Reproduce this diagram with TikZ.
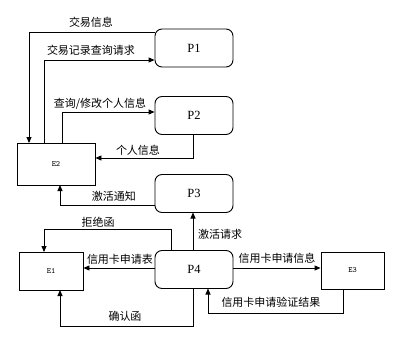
\documentclass[tikz,border=0pt]{standalone}
\usepackage{fontspec}
\newfontfamily\cjk{Noto Sans CJK SC}
\setmainfont{Liberation Serif}
\usetikzlibrary{arrows.meta}
\begin{document}
\begin{tikzpicture}[x=1pt,y=-1pt,
  proc/.style={draw,line width=0.9pt,rounded corners=7pt,minimum width=78pt,minimum height=38pt,inner sep=0pt,font=\fontsize{12.5}{14}\selectfont},
  ent/.style={draw,line width=0.9pt,inner sep=0pt,font=\ttfamily\fontsize{8}{9}\selectfont},
  flow/.style={draw,line width=0.9pt,-{Triangle[length=6pt,width=5pt]}},
  lab/.style={font=\cjk\fontsize{11}{12}\selectfont,inner sep=1pt}]
\useasboundingbox (0,0) rectangle (400,338);
\fill[white] (0,0) rectangle (400,338);
\node[proc] (P1) at (194,48) {P1};
\node[proc] (P2) at (194,115.5) {P2};
\node[proc] (P3) at (194,193.5) {P3};
\node[proc] (P4) at (194,269.5) {P4};
\node[ent,minimum width=78pt,minimum height=42pt] (E2) at (56,164) {E2};
\node[ent,minimum width=64pt,minimum height=38pt] (E1) at (51,271) {E1};
\node[ent,minimum width=63pt,minimum height=37pt] (E3) at (352.5,270.5) {E3};
% flows
\draw[flow] (P1.west |- 0,32) -- (29,32) -- (29,143);
\node[lab] (l1) at (91,22) {交易信息};
\draw[flow] (44,143) -- (44,60) -- (P1.west |- 0,60);
\node[lab] (l2) at (91,50) {交易记录查询请求};
\draw[flow] (62,143) -- (62,112) -- (P2.west |- 0,112);
\node[lab] (l3) at (100,104) {查询/修改个人信息};
\draw[flow] (193,134.5) -- (193,158) -- (E2.east |- 0,158);
\node[lab] (l4) at (138,150) {个人信息};
\draw[flow] (P3.west |- 0,205) -- (60,205) -- (60,185);
\node[lab] (l5) at (114,196) {激活通知};
\draw[flow] (171,250.5) -- (171,229) -- (44,229) -- (44,252);
\node[lab] (l6) at (98,222) {拒绝函};
\draw[flow] (193,250.5) -- (193,212.5);
\node[lab] (l7) at (220,234) {激活请求};
\draw[flow] (P4.west |- 0,268) -- (E1.east |- 0,268);
\node[lab] (l8) at (120,259) {信用卡申请表};
\draw[flow] (P4.east |- 0,268) -- (E3.west |- 0,268);
\node[lab] (l9) at (277,258) {信用卡申请信息};
\draw[flow] (343,289) -- (343,313) -- (208,313) -- (208,288.5);
\node[lab] (l10) at (271,302) {信用卡申请验证结果};
\draw[flow] (193,288.5) -- (193,326) -- (60,326) -- (60,290);
\node[lab] (l11) at (125,316) {确认函};
\end{tikzpicture}
\end{document}
